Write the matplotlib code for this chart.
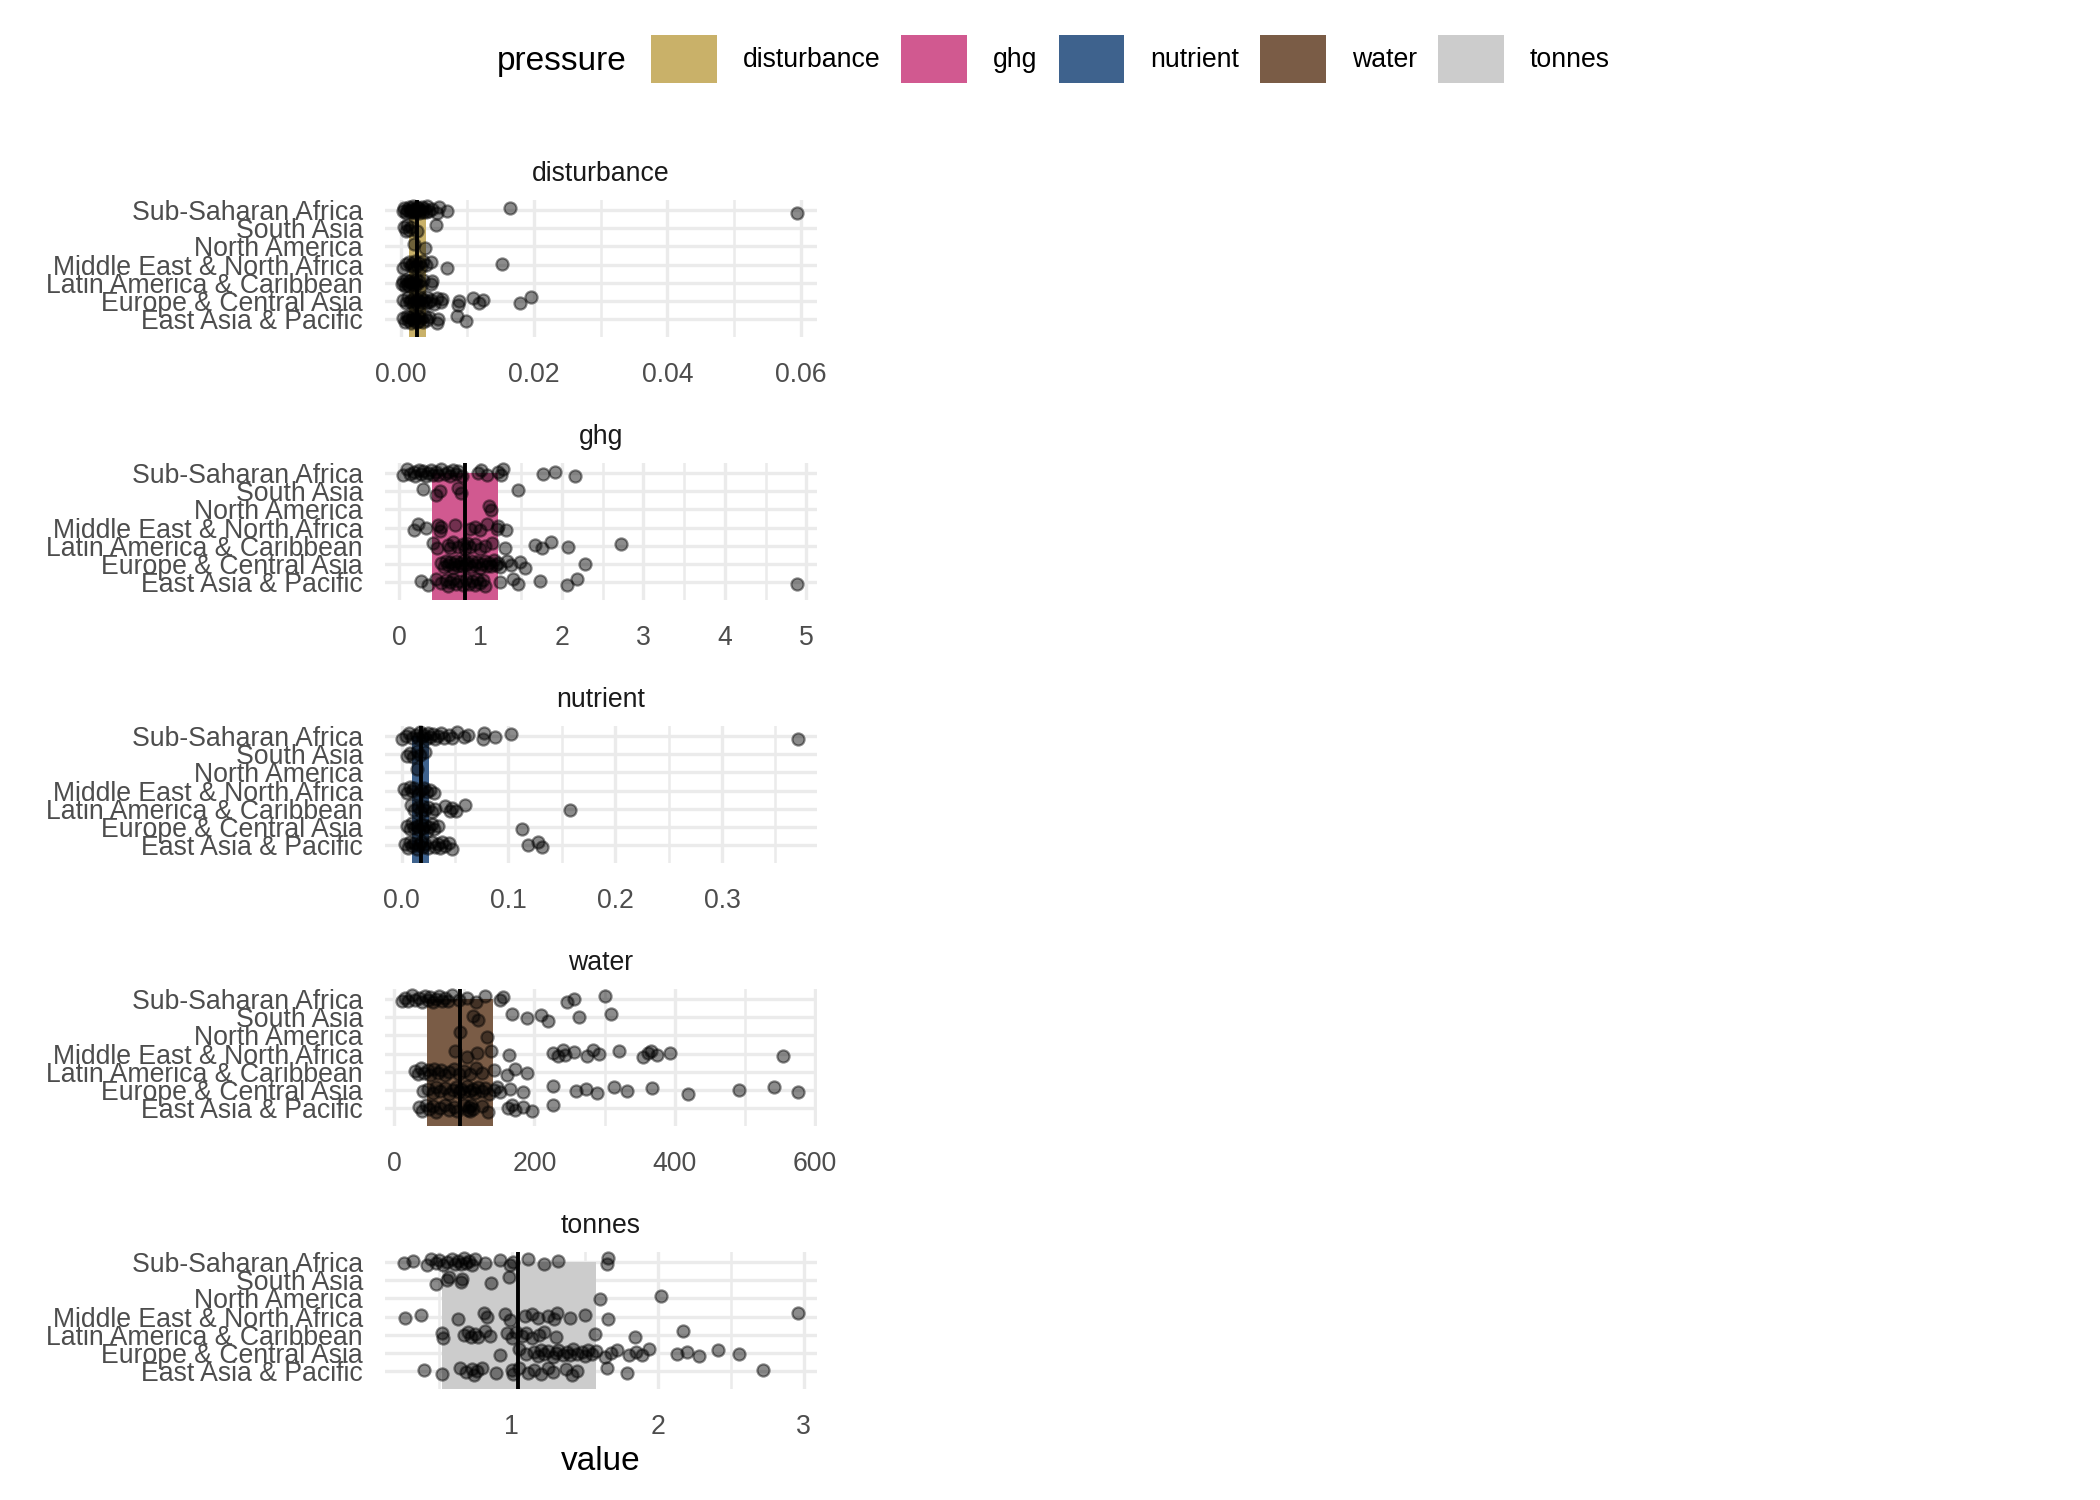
import matplotlib
matplotlib.use("Agg")
import matplotlib.pyplot as plt
from matplotlib.patches import Patch

plt.rcParams['font.family'] = ['Liberation Sans', 'DejaVu Sans']

# regions from bottom (y=1) to top (y=7)
REGIONS = ["East Asia & Pacific", "Europe & Central Asia", "Latin America & Caribbean",
           "Middle East & North Africa", "North America", "South Asia", "Sub-Saharan Africa"]
PRESSURES = ["disturbance", "ghg", "nutrient", "water", "tonnes"]
COLOURS = ["#C9B169", "#D15990", "#3E628D", "#7A5C46", "#CCCCCC"]

# values per region, same order as REGIONS
disturbance = [
    [0.0003, 0.0006, 0.0009, 0.0011, 0.0013, 0.0015, 0.0017, 0.0019, 0.002, 0.0022, 0.0024,
     0.0026, 0.0028, 0.003, 0.0033, 0.0036, 0.004, 0.0043, 0.0054, 0.0056, 0.0084, 0.0098],
    [0.0004, 0.0008, 0.0011, 0.0014, 0.0016, 0.0018, 0.002, 0.0022, 0.0024, 0.0026, 0.0028,
     0.003, 0.0032, 0.0035, 0.0038, 0.004, 0.0043, 0.0046, 0.005, 0.0055, 0.006, 0.0062,
     0.0086, 0.0088, 0.0108, 0.0118, 0.0124, 0.0179, 0.0195],
    [0.0002, 0.0004, 0.0006, 0.0008, 0.001, 0.0012, 0.0013, 0.0015, 0.0016, 0.0018, 0.002,
     0.0021, 0.0023, 0.0025, 0.0027, 0.003, 0.0034, 0.0045, 0.0047],
    [0.0004, 0.0008, 0.0012, 0.0015, 0.0017, 0.002, 0.0022, 0.0025, 0.0028, 0.003, 0.0034,
     0.0038, 0.0045, 0.0069, 0.0152],
    [0.002, 0.0036],
    [0.0005, 0.0008, 0.001, 0.0013, 0.0016, 0.0024, 0.0053],
    [0.0003, 0.0005, 0.0008, 0.001, 0.0012, 0.0014, 0.0015, 0.0017, 0.0018, 0.002, 0.0021,
     0.0022, 0.0024, 0.0025, 0.0026, 0.0028, 0.003, 0.0032, 0.0034, 0.0036, 0.0038, 0.004,
     0.0043, 0.0047, 0.0055, 0.0058, 0.0069, 0.0164, 0.0595],
]
ghg = [
    [0.27, 0.36, 0.46, 0.52, 0.58, 0.6, 0.62, 0.66, 0.7, 0.74, 0.78, 0.82, 0.86, 0.9, 0.93,
     0.96, 1.0, 1.03, 1.05, 1.24, 1.4, 1.46, 1.73, 2.06, 2.19, 4.89],
    [0.52, 0.55, 0.58, 0.6, 0.63, 0.66, 0.68, 0.7, 0.72, 0.75, 0.77, 0.8, 0.82, 0.85, 0.88,
     0.9, 0.93, 0.96, 0.99, 1.02, 1.05, 1.08, 1.1, 1.13, 1.16, 1.19, 1.22, 1.24, 1.32, 1.38,
     1.48, 1.55, 2.28],
    [0.42, 0.47, 0.6, 0.62, 0.66, 0.72, 0.78, 0.81, 0.83, 0.87, 0.93, 1.0, 1.06, 1.14, 1.3,
     1.67, 1.75, 1.86, 2.07, 2.72],
    [0.18, 0.23, 0.33, 0.48, 0.5, 0.52, 0.69, 0.87, 0.93, 1.0, 1.08, 1.2, 1.22, 1.31],
    [1.11, 1.13],
    [0.29, 0.46, 0.5, 0.73, 0.76, 1.46],
    [0.05, 0.1, 0.14, 0.18, 0.2, 0.24, 0.27, 0.3, 0.33, 0.36, 0.39, 0.42, 0.45, 0.48, 0.52,
     0.56, 0.6, 0.63, 0.66, 0.7, 0.73, 0.77, 0.97, 1.01, 1.08, 1.22, 1.25, 1.28, 1.77, 1.91,
     2.16],
]
nutrient = [
    [0.003, 0.006, 0.008, 0.01, 0.012, 0.014, 0.016, 0.018, 0.02, 0.022, 0.025, 0.028, 0.031,
     0.034, 0.036, 0.038, 0.041, 0.044, 0.047, 0.118, 0.1275, 0.131],
    [0.005, 0.008, 0.01, 0.012, 0.014, 0.016, 0.018, 0.02, 0.022, 0.024, 0.026, 0.028, 0.03,
     0.034, 0.1125],
    [0.009, 0.012, 0.015, 0.018, 0.02, 0.022, 0.025, 0.028, 0.031, 0.041, 0.045, 0.047, 0.051,
     0.059, 0.158],
    [0.002, 0.005, 0.008, 0.01, 0.012, 0.015, 0.018, 0.021, 0.024, 0.027, 0.03],
    [0.014],
    [0.005, 0.008, 0.011, 0.014, 0.017, 0.022],
    [0.0, 0.004, 0.007, 0.01, 0.013, 0.015, 0.017, 0.019, 0.021, 0.023, 0.025, 0.027, 0.029,
     0.031, 0.034, 0.037, 0.04, 0.044, 0.047, 0.052, 0.058, 0.062, 0.076, 0.077, 0.0875,
     0.1025, 0.371],
]
water = [
    [35, 40, 45, 50, 55, 60, 65, 72, 78, 85, 90, 100, 105, 107, 108, 110, 112, 125, 134, 163,
     168, 172, 184, 196, 226],
    [42, 48, 55, 60, 66, 72, 78, 84, 88, 92, 96, 100, 104, 108, 112, 116, 120, 125, 130, 136,
     142, 147, 151, 165, 184, 227, 259, 274, 289, 313, 332, 367, 419, 491, 542, 575],
    [30, 34, 38, 43, 48, 52, 57, 62, 67, 72, 78, 85, 92, 100, 108, 117, 125, 142, 161, 172, 190],
    [87, 104, 118, 138, 164, 227, 234, 241, 244, 256, 275, 283, 292, 321, 355, 362, 366, 374,
     393, 554],
    [94, 132],
    [112, 119, 168, 189, 209, 220, 263, 309],
    [11, 15, 20, 25, 30, 35, 40, 44, 48, 52, 56, 60, 64, 68, 72, 77, 82, 92, 104, 117, 130,
     151, 156, 246, 257, 300],
]
tonnes = [
    [0.4, 0.52, 0.645, 0.69, 0.73, 0.74, 0.76, 0.795, 0.89, 1.0, 1.01, 1.05, 1.11, 1.15, 1.2,
     1.25, 1.28, 1.37, 1.41, 1.45, 1.65, 1.79, 2.72],
    [0.92, 1.05, 1.1, 1.15, 1.18, 1.2, 1.22, 1.25, 1.28, 1.3, 1.32, 1.35, 1.38, 1.4, 1.42,
     1.45, 1.48, 1.5, 1.52, 1.55, 1.58, 1.64, 1.68, 1.72, 1.8, 1.85, 1.89, 1.94, 2.13, 2.2,
     2.28, 2.41, 2.56],
    [0.52, 0.53, 0.67, 0.7, 0.72, 0.75, 0.77, 0.82, 0.85, 0.97, 1.0, 1.03, 1.07, 1.1, 1.14,
     1.19, 1.22, 1.3, 1.57, 1.845, 2.17],
    [0.27, 0.38, 0.635, 0.81, 0.83, 0.955, 0.99, 1.09, 1.14, 1.18, 1.25, 1.29, 1.31, 1.4, 1.5,
     1.66, 2.96],
    [1.605, 2.02],
    [0.48, 0.555, 0.57, 0.65, 0.66, 0.86, 0.98],
    [0.265, 0.327, 0.42, 0.45, 0.48, 0.5, 0.53, 0.56, 0.59, 0.61, 0.63, 0.65, 0.67, 0.69,
     0.71, 0.73, 0.75, 0.82, 0.92, 0.99, 1.01, 1.11, 1.22, 1.32, 1.65, 1.66],
]
VALUES = [disturbance, ghg, nutrient, water, tonnes]

# interquartile box and median per pressure
BOX_LOW = [0.0013, 0.41, 0.010, 47.5, 0.525]
BOX_HIGH = [0.00375, 1.21, 0.026, 141.6, 1.575]
MEDIANS = [0.0025, 0.81, 0.018, 94, 1.046]

X_LIMITS = [(-0.00235, 0.06245), (-0.172, 5.13), (-0.0156, 0.389), (-12.8, 602.6), (0.132, 3.091)]
MAJOR_TICKS = [[0, 0.02, 0.04, 0.06], [0, 1, 2, 3, 4, 5], [0, 0.1, 0.2, 0.3],
               [0, 200, 400, 600], [1, 2, 3]]
TICK_LABELS = [["0.00", "0.02", "0.04", "0.06"], ["0", "1", "2", "3", "4", "5"],
               ["0.0", "0.1", "0.2", "0.3"], ["0", "200", "400", "600"], ["1", "2", "3"]]
MINOR_TICKS = [[0.01, 0.03, 0.05], [0.5, 1.5, 2.5, 3.5, 4.5], [0.05, 0.15, 0.25, 0.35],
               [100, 300, 500], [0.5, 1.5, 2.5]]

# fixed vertical jitter pattern
JITTER = [0.08, -0.15, 0.18, -0.04, 0.12, -0.19, 0.02, 0.16, -0.1, 0.05, -0.13, 0.2, -0.07]

W, H = 2100, 1500
fig = plt.figure(figsize=(W / 200, H / 200), dpi=200)

left, right = 385, 817
for i, name in enumerate(PRESSURES):
    top = 200 + 263 * i
    ax = fig.add_axes([left / W, 1 - (top + 137) / H, (right - left) / W, 137 / H])

    ax.barh(3.5, BOX_HIGH[i] - BOX_LOW[i], left=BOX_LOW[i], height=7,
            color=COLOURS[i], zorder=2)
    k = 0
    for j, vals in enumerate(VALUES[i]):
        ys = []
        for _ in vals:
            ys.append(j + 1 + JITTER[k % len(JITTER)])
            k += 1
        ax.scatter(vals, ys, s=19, color="black", alpha=0.45, linewidths=0.8,
                   edgecolors="black", zorder=3, clip_on=False)
    ax.axvline(MEDIANS[i], color="black", lw=1.4, zorder=4)

    ax.set_xlim(*X_LIMITS[i])
    ax.set_ylim(0.03, 7.55)
    ax.set_xticks(MAJOR_TICKS[i])
    ax.set_xticklabels(TICK_LABELS[i])
    ax.set_xticks(MINOR_TICKS[i], minor=True)
    ax.set_yticks(range(1, 8))
    ax.set_yticklabels(REGIONS)
    ax.set_axisbelow(True)
    ax.grid(which="major", color="#EBEBEB", lw=1.2)
    ax.grid(which="minor", axis="x", color="#EBEBEB", lw=0.9)
    for s in ax.spines.values():
        s.set_visible(False)
    ax.tick_params(which="both", length=0, labelsize=9.6, labelcolor="#4D4D4D")
    ax.tick_params(axis="x", pad=9)
    ax.tick_params(axis="y", pad=7.9)
    ax.set_title(name, fontsize=9.6, color="#1A1A1A", pad=7)

fig.text(601 / W, 1 - 1470 / H, "value", ha="center", va="baseline", fontsize=12)

# legend
fig.text(497 / W, 1 - 70 / H, "pressure", ha="left", va="baseline", fontsize=12)
handles = [Patch(facecolor=c, edgecolor="none") for c in COLOURS]
fig.legend(handles, PRESSURES, ncol=5, loc="center left", bbox_to_anchor=(651 / W, 1 - 59 / H),
           frameon=False, fontsize=9.6, handlelength=2.47, handleheight=2.4,
           handletextpad=0.97, columnspacing=0.79, borderpad=0, borderaxespad=0)

fig.savefig("out.png", dpi=200, facecolor="white")
